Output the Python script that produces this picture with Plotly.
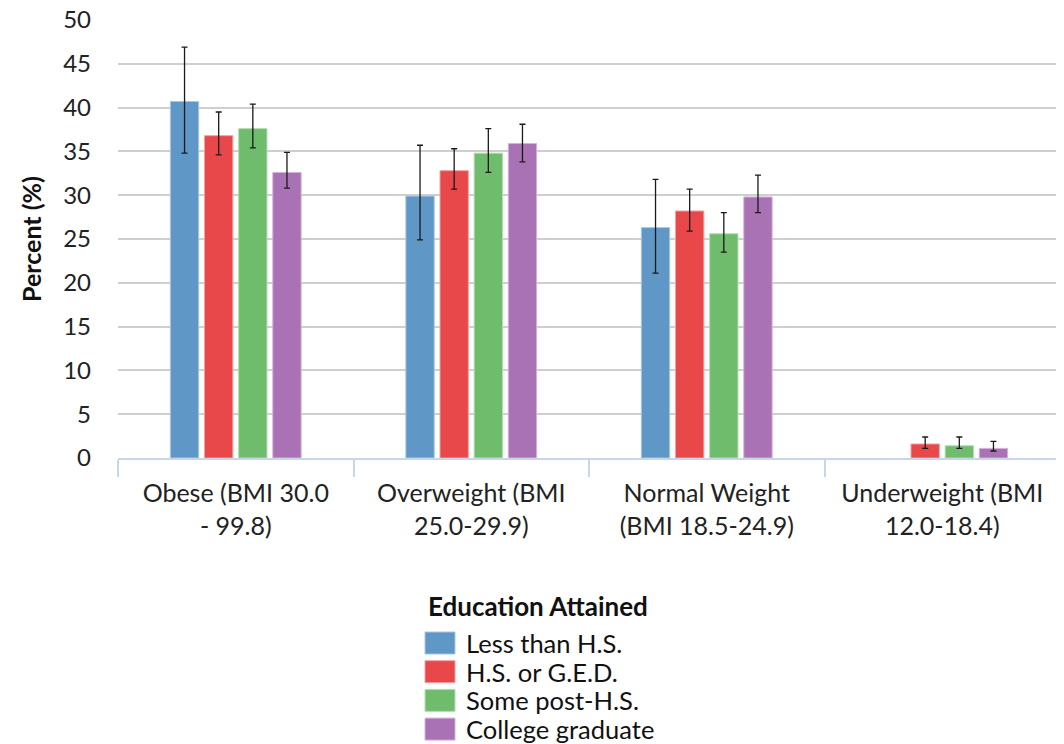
import plotly.graph_objects as go

categories = ["Obese (BMI 30.0<br>- 99.8)", "Overweight (BMI<br>25.0-29.9)",
              "Normal Weight<br>(BMI 18.5-24.9)", "Underweight (BMI<br>12.0-18.4)"]
series_names = ["Less than H.S.", "H.S. or G.E.D.", "Some post-H.S.", "College graduate"]
y_ticks = [0, 5, 10, 15, 20, 25, 30, 35, 40, 45, 50]

less_hs = [40.7, 29.9, 26.3, None]
less_hs_hi = [46.9, 35.7, 31.8, None]
less_hs_lo = [34.8, 24.9, 21.1, None]

hs_ged = [36.8, 32.8, 28.2, 1.6]
hs_ged_hi = [39.5, 35.3, 30.7, 2.4]
hs_ged_lo = [34.6, 30.7, 25.9, 1.1]

some_post = [37.6, 34.8, 25.6, 1.4]
some_post_hi = [40.4, 37.6, 28.0, 2.4]
some_post_lo = [35.4, 32.6, 23.5, 1.1]

college = [32.6, 35.9, 29.8, 1.1]
college_hi = [34.9, 38.1, 32.3, 1.9]
college_lo = [30.8, 33.8, 28.0, 0.8]

colors = ["#5F97C7", "#E8484A", "#70BC6D", "#A972B4"]
line_colors = ["#A9C6E3", "#F2A0A1", "#B3DDB1", "#D3B3DA"]

values = [less_hs, hs_ged, some_post, college]
highs = [less_hs_hi, hs_ged_hi, some_post_hi, college_hi]
lows = [less_hs_lo, hs_ged_lo, some_post_lo, college_lo]

FONT = "Lato, 'Open Sans', sans-serif"

fig = go.Figure()
for name, v, hi, lo, c, lc in zip(series_names, values, highs, lows, colors, line_colors):
    plus = [None if (a is None) else round(h - a, 3) for a, h in zip(v, hi)]
    minus = [None if (a is None) else round(a - l, 3) for a, l in zip(v, lo)]
    fig.add_trace(go.Bar(
        x=categories, y=v, name=name,
        marker=dict(color=c, line=dict(color=lc, width=1)),
        error_y=dict(type="data", symmetric=False, array=plus, arrayminus=minus,
                     color="#1a1a1a", thickness=1.3, width=3),
        showlegend=False,
    ))

# page offset (body margin) and plot area, in screenshot pixels
OFF = 8
W, H = 1064 - OFF, 744 - OFF
L, R, T, B = 118, 1060, 20, 458
def px(x):
    return (x - L) / (R - L)
def py(y):
    return (B - y) / (B - T)

shapes = []
annotations = [dict(text="<b>Education Attained</b>", x=px(426), y=py(606), xref="paper", yref="paper",
                    xanchor="left", yanchor="middle", showarrow=False,
                    font=dict(family=FONT, size=26, color="#111"))]
for i, (name, c, lc) in enumerate(zip(series_names, colors, line_colors)):
    y0 = 632 + i * 28.7
    shapes.append(dict(type="rect", xref="paper", yref="paper",
                       x0=px(425), x1=px(455), y0=py(y0), y1=py(y0 + 22),
                       fillcolor=c, line=dict(color=lc, width=1)))
    annotations.append(dict(text=name, x=px(464), y=py(y0 + 11), xref="paper", yref="paper",
                            xanchor="left", yanchor="middle", showarrow=False,
                            font=dict(family=FONT, size=25.5, color="#111")))

fig.update_layout(
    width=W, height=H,
    margin=dict(l=L - OFF, r=W - (R - OFF), t=T - OFF, b=H - (B - OFF)),
    plot_bgcolor="white", paper_bgcolor="white",
    barmode="group", bargap=0.42, bargroupgap=0.17,
    font=dict(family=FONT, size=24, color="#222"),
    shapes=shapes, annotations=annotations,
)
fig.update_xaxes(
    showline=True, linecolor="#C9D6E6", linewidth=2,
    ticks="outside", tickson="boundaries", ticklen=17, tickcolor="#C9D6E6", tickwidth=2,
    showgrid=False, ticklabelstandoff=12, tickfont=dict(family=FONT, size=25, color="#222"),
)
fig.update_yaxes(
    range=[0, 50], tickmode="array", tickvals=y_ticks, showgrid=True, gridcolor="#CFCFCF", gridwidth=1.5,
    zeroline=False, showline=False, ticklabelstandoff=26, automargin=False,
    ticklabeloverflow="allow",
    tickfont=dict(family=FONT, size=24, color="#222"),
    title=dict(text="<b>Percent (%)</b>", font=dict(family=FONT, size=25, color="#111"), standoff=14),
)

fig.write_html("out.html")
